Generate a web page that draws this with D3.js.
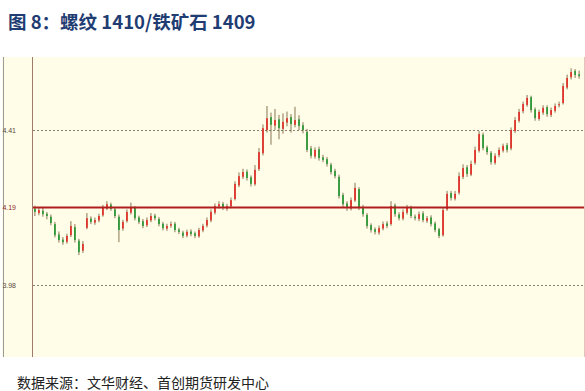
<!DOCTYPE html>
<html>
<head>
<meta charset="utf-8">
<script src="https://cdn.jsdelivr.net/npm/d3@7"></script>
<style>
  body { margin: 0; background: #fff; }
  svg { display: block; }
  .title { font-family: "Noto Sans CJK SC", sans-serif; font-weight: bold; fill: #1f3d73; }
  .source { font-family: "Noto Sans CJK SC", sans-serif; fill: #222; }
</style>
</head>
<body>
<svg id="chart" width="585" height="391"></svg>
<script>
// candle data (ratio rb1410 / i1409)
const opens = [4.192,4.180,4.186,4.178,4.170,4.150,4.122,4.108,4.102,4.120,4.142,4.105,4.078,4.140,4.165,4.154,4.160,4.174,4.192,4.203,
  4.190,4.170,4.138,4.158,4.181,4.194,4.168,4.158,4.147,4.160,4.173,4.164,4.151,4.138,4.146,4.151,4.135,4.127,4.119,4.130,
  4.125,4.117,4.133,4.146,4.160,4.181,4.198,4.205,4.192,4.198,4.218,4.255,4.278,4.292,4.277,4.258,4.299,4.342,4.405,4.440,
  4.417,4.434,4.408,4.425,4.440,4.419,4.434,4.418,4.400,4.355,4.333,4.353,4.331,4.326,4.311,4.294,4.278,4.229,4.206,4.192,
  4.214,4.245,4.196,4.175,4.147,4.136,4.127,4.138,4.152,4.150,4.201,4.176,4.165,4.181,4.196,4.170,4.164,4.179,4.159,4.168,
  4.152,4.136,4.120,4.190,4.234,4.219,4.235,4.278,4.304,4.284,4.316,4.349,4.392,4.358,4.343,4.316,4.337,4.349,4.364,4.355,
  4.402,4.430,4.456,4.473,4.494,4.461,4.435,4.452,4.467,4.446,4.457,4.472,4.478,4.520,4.548,4.565,4.556];
const closes = [4.183,4.188,4.177,4.172,4.153,4.120,4.107,4.101,4.118,4.145,4.107,4.074,4.096,4.166,4.156,4.161,4.172,4.194,4.204,4.191,
  4.172,4.134,4.156,4.183,4.196,4.166,4.156,4.145,4.161,4.172,4.166,4.150,4.139,4.145,4.150,4.134,4.129,4.118,4.129,4.123,
  4.118,4.134,4.145,4.161,4.183,4.199,4.204,4.194,4.199,4.215,4.259,4.280,4.291,4.275,4.259,4.297,4.345,4.410,4.437,4.419,
  4.432,4.410,4.427,4.437,4.421,4.432,4.416,4.405,4.351,4.335,4.351,4.329,4.324,4.313,4.291,4.280,4.226,4.204,4.194,4.215,
  4.248,4.194,4.177,4.145,4.134,4.129,4.139,4.150,4.145,4.199,4.177,4.166,4.183,4.194,4.172,4.166,4.177,4.161,4.166,4.150,
  4.134,4.118,4.188,4.232,4.221,4.232,4.280,4.302,4.286,4.313,4.351,4.394,4.356,4.345,4.318,4.335,4.351,4.362,4.351,4.405,
  4.432,4.454,4.475,4.492,4.459,4.437,4.454,4.465,4.448,4.459,4.470,4.475,4.524,4.546,4.562,4.554,4.551];
const highs = [4.200,4.196,4.194,4.183,4.176,4.156,4.130,4.115,4.124,4.158,4.150,4.110,4.104,4.180,4.171,4.168,4.178,4.202,4.212,4.208,
  4.196,4.176,4.162,4.190,4.208,4.199,4.173,4.164,4.168,4.180,4.178,4.169,4.156,4.151,4.157,4.156,4.140,4.132,4.135,4.136,
  4.130,4.140,4.151,4.168,4.190,4.206,4.212,4.210,4.205,4.222,4.266,4.290,4.300,4.298,4.282,4.310,4.356,4.420,4.470,4.452,
  4.462,4.446,4.450,4.455,4.448,4.468,4.445,4.426,4.408,4.362,4.358,4.360,4.338,4.332,4.316,4.300,4.284,4.235,4.212,4.222,
  4.262,4.250,4.202,4.180,4.152,4.141,4.146,4.157,4.158,4.212,4.206,4.182,4.190,4.202,4.200,4.176,4.184,4.185,4.172,4.174,
  4.157,4.140,4.195,4.240,4.240,4.240,4.290,4.312,4.310,4.322,4.360,4.402,4.398,4.363,4.348,4.342,4.358,4.368,4.370,4.412,
  4.440,4.462,4.482,4.500,4.498,4.466,4.460,4.472,4.472,4.466,4.477,4.482,4.532,4.555,4.572,4.570,4.566];
const lows = [4.172,4.174,4.170,4.163,4.147,4.114,4.100,4.094,4.097,4.115,4.100,4.066,4.072,4.136,4.150,4.148,4.155,4.170,4.188,4.186,
  4.166,4.101,4.132,4.154,4.176,4.160,4.150,4.139,4.142,4.155,4.160,4.144,4.133,4.132,4.140,4.128,4.123,4.112,4.114,4.117,
  4.112,4.113,4.128,4.141,4.155,4.176,4.192,4.188,4.186,4.193,4.214,4.250,4.272,4.268,4.252,4.254,4.294,4.336,4.398,4.365,
  4.405,4.380,4.395,4.415,4.398,4.412,4.405,4.396,4.345,4.328,4.327,4.322,4.318,4.306,4.284,4.274,4.219,4.196,4.186,4.187,
  4.210,4.188,4.170,4.138,4.127,4.122,4.121,4.133,4.139,4.146,4.170,4.160,4.160,4.176,4.166,4.160,4.158,4.155,4.153,4.144,
  4.128,4.112,4.116,4.186,4.214,4.214,4.230,4.272,4.278,4.280,4.311,4.344,4.350,4.338,4.311,4.311,4.331,4.344,4.344,4.350,
  4.397,4.425,4.450,4.468,4.452,4.430,4.430,4.446,4.441,4.440,4.452,4.466,4.474,4.515,4.542,4.546,4.544];

// y grid values and the labels the source software printed for them
const gridValues = [4.405, 4.195, 3.985];
const gridLabels = ["4.41", "4.19", "3.98"];
const refValue = 4.195;

const titleText = "图 8：螺纹 1410/铁矿石 1409";
const sourceText = "数据来源：文华财经、首创期货研发中心";

const svg = d3.select("#chart");

const plot = { left: 33, right: 583, top: 57, bottom: 357 };

const x = d3.scaleBand()
  .domain(d3.range(closes.length))
  .range([plot.left + 1, plot.right - 3])
  .paddingInner(0.55);

const y = d3.scaleLinear()
  .domain([3.985, 4.405])
  .range([285, 130]);

// title
svg.append("text")
  .attr("class", "title")
  .attr("x", 8)
  .attr("y", 29)
  .style("font-size", "18.5px")
  .text(titleText);

// background panel
svg.append("rect")
  .attr("x", 2)
  .attr("y", plot.top)
  .attr("width", plot.right - 1)
  .attr("height", plot.bottom - plot.top)
  .attr("fill", "#fffde8");

// frame lines
svg.append("line")
  .attr("x1", 3.5).attr("x2", 3.5)
  .attr("y1", plot.top).attr("y2", plot.bottom)
  .attr("stroke", "#9a9a9a");
svg.append("line")
  .attr("x1", 32.5).attr("x2", 32.5)
  .attr("y1", plot.top).attr("y2", plot.bottom)
  .attr("stroke", "#a07a6a");
svg.append("line")
  .attr("x1", 584.5).attr("x2", 584.5)
  .attr("y1", plot.top).attr("y2", plot.bottom)
  .attr("stroke", "#e3c2bb");

// dotted grid lines
svg.selectAll(".grid")
  .data(gridValues.filter(v => v !== refValue))
  .enter()
  .append("line")
  .attr("class", "grid")
  .attr("x1", plot.left)
  .attr("x2", plot.right + 1)
  .attr("y1", d => Math.round(y(d)) + 0.5)
  .attr("y2", d => Math.round(y(d)) + 0.5)
  .attr("stroke", "#8a7f70")
  .attr("stroke-dasharray", "2,2");

// y axis labels
const yAxis = d3.axisLeft(y)
  .tickValues(gridValues)
  .tickFormat((d, i) => gridLabels[i])
  .tickSize(0)
  .tickPadding(16);

const axisG = svg.append("g")
  .attr("transform", `translate(${plot.left - 1},0)`)
  .call(yAxis);
axisG.select(".domain").remove();
axisG.selectAll("text")
  .attr("font-family", "Liberation Sans, Arial, sans-serif")
  .attr("font-size", 7)
  .attr("fill", (d) => d === refValue ? "#8b2a2a" : "#5a4a40");

// candles
const candles = svg.selectAll(".candle")
  .data(closes.map((c, i) => ({ i, o: opens[i], h: highs[i], l: lows[i], c })))
  .enter()
  .append("g")
  .attr("class", "candle");

const colorOf = d => d.c >= d.o ? "#e0342c" : "#2f9a3a";

candles.append("line")
  .attr("x1", d => x(d.i) + x.bandwidth() / 2)
  .attr("x2", d => x(d.i) + x.bandwidth() / 2)
  .attr("y1", d => y(d.h))
  .attr("y2", d => y(d.l))
  .attr("stroke", "#6b5330")
  .attr("stroke-width", 0.8);

candles.append("rect")
  .attr("x", d => x(d.i))
  .attr("width", x.bandwidth())
  .attr("y", d => y(Math.max(d.o, d.c)))
  .attr("height", d => Math.max(1, Math.abs(y(d.o) - y(d.c))))
  .attr("fill", colorOf);

// reference line
svg.append("line")
  .attr("x1", plot.left)
  .attr("x2", plot.right + 1)
  .attr("y1", y(refValue))
  .attr("y2", y(refValue))
  .attr("stroke", "#b01e1e")
  .attr("stroke-width", 2);

// source
svg.append("text")
  .attr("class", "source")
  .attr("x", 17)
  .attr("y", 388)
  .style("font-size", "14px")
  .text(sourceText);
</script>
</body>
</html>
